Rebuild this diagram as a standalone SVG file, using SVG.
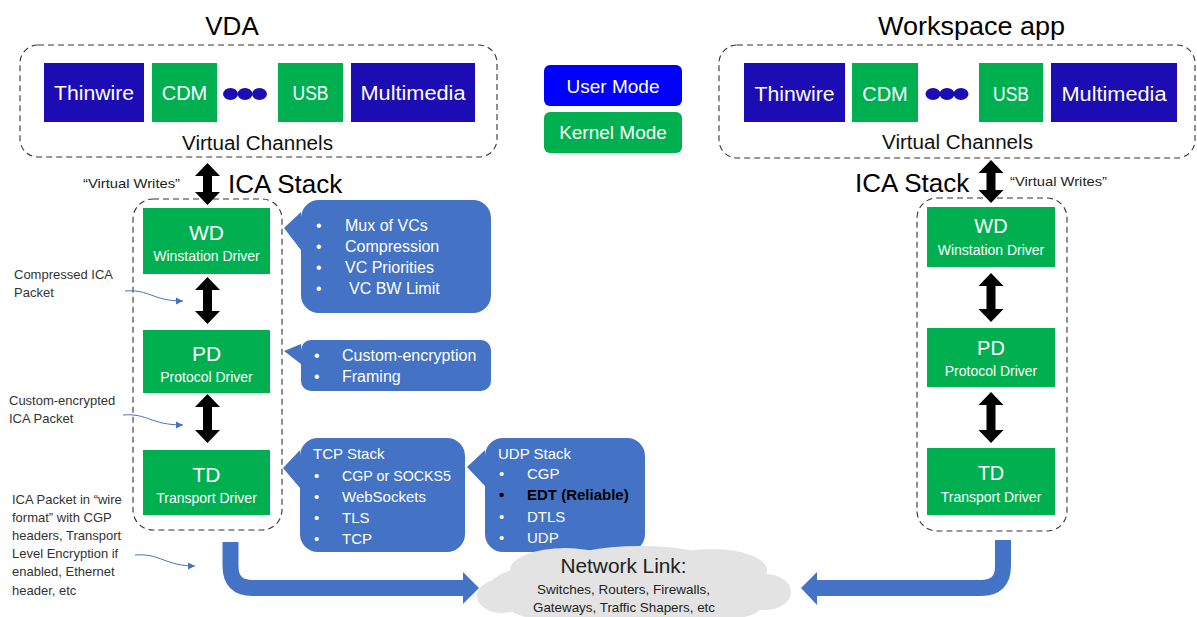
<svg xmlns="http://www.w3.org/2000/svg" width="1197" height="617" viewBox="0 0 1197 617">
<defs>
<style>
text{font-family:"Liberation Sans",Arial,sans-serif}
.title{font-size:26px;fill:#000;text-anchor:middle}
.stk{font-size:26px;fill:#000}
.dash{fill:none;stroke:#333;stroke-width:1.1;stroke-dasharray:6 4}
.vcb{fill:#1C0CB4}
.grn{fill:#00B050}
.vct{font-size:20px;fill:#fff;text-anchor:middle}
.dots{fill:#1C0CB4}
.vclab{font-size:20px;fill:#111;text-anchor:middle}
.drv{font-size:21px;fill:#fff;text-anchor:middle}
.drvs{font-size:14px;fill:#fff;text-anchor:middle}
.callout{fill:#4472C4}
.ct{font-size:16px;fill:#fff}
.ct15{font-size:15px;fill:#fff}
.ann{font-size:13px;fill:#333}
.vw{font-size:13px;fill:#222}
.dbl{fill:#000}
.big{fill:none;stroke:#4472C4;stroke-width:16}
.bighead{fill:#4472C4}
.thin{fill:none;stroke:#4472C4;stroke-width:1}
.cloud{fill:#E3E3E3}
.cloudt{fill:#222;text-anchor:middle}
.mode{font-size:19px;fill:#fff;text-anchor:middle}
</style>
<marker id="ah" markerWidth="8" markerHeight="8" refX="7" refY="4" orient="auto" markerUnits="userSpaceOnUse"><path d="M0,0.5 L7,4 L0,7.5 Z" fill="#4472C4"/></marker>
</defs>
<rect x="0" y="0" width="1197" height="617" fill="#fff"/>

<!-- VDA virtual channels -->
<g id="vda">
  <text class="title" x="232" y="35">VDA</text>
  <rect class="dash" x="20" y="45" width="477" height="112" rx="18"/>
  <text class="vclab" x="257.5" y="150" textLength="151" lengthAdjust="spacingAndGlyphs">Virtual Channels</text>
</g>
<g id="vda-thinwire"><rect class="vcb" x="44" y="63" width="100" height="59"/><text class="vct" x="94" y="100" textLength="80" lengthAdjust="spacingAndGlyphs">Thinwire</text></g>
<g id="vda-cdm"><rect class="grn" x="152" y="63" width="65" height="59"/><text class="vct" x="184.5" y="100">CDM</text></g>
<g id="vda-dots"><ellipse class="dots" cx="230.5" cy="94" rx="7.5" ry="6"/><ellipse class="dots" cx="245" cy="94" rx="7.5" ry="6"/><ellipse class="dots" cx="259.5" cy="94" rx="7.5" ry="6"/></g>
<g id="vda-usb"><rect class="grn" x="278" y="63" width="65" height="59"/><text class="vct" x="310.5" y="100" textLength="36" lengthAdjust="spacingAndGlyphs">USB</text></g>
<g id="vda-mm"><rect class="vcb" x="351" y="63" width="124" height="59"/><text class="vct" x="413" y="100" textLength="105" lengthAdjust="spacingAndGlyphs">Multimedia</text></g>

<!-- Legend -->
<g id="legend-user"><rect x="544" y="65" width="138" height="41" rx="6" fill="#0000FF"/><text class="mode" x="613" y="93">User Mode</text></g>
<g id="legend-kernel"><rect x="544" y="112" width="138" height="41" rx="6" fill="#00B050"/><text class="mode" x="613" y="139">Kernel Mode</text></g>

<!-- Workspace app virtual channels -->
<g id="wsa">
  <text class="title" x="971.5" y="35" textLength="187" lengthAdjust="spacingAndGlyphs">Workspace app</text>
  <rect class="dash" x="719" y="45" width="476" height="113" rx="18"/>
  <text class="vclab" x="957.5" y="149" textLength="151" lengthAdjust="spacingAndGlyphs">Virtual Channels</text>
</g>
<g id="wsa-thinwire"><rect class="vcb" x="744" y="63" width="101" height="59"/><text class="vct" x="794.5" y="101" textLength="80" lengthAdjust="spacingAndGlyphs">Thinwire</text></g>
<g id="wsa-cdm"><rect class="grn" x="852" y="63" width="66" height="59"/><text class="vct" x="885" y="101">CDM</text></g>
<g id="wsa-dots"><ellipse class="dots" cx="933" cy="94" rx="7.5" ry="6"/><ellipse class="dots" cx="947" cy="94" rx="7.5" ry="6"/><ellipse class="dots" cx="961" cy="94" rx="7.5" ry="6"/></g>
<g id="wsa-usb"><rect class="grn" x="979" y="63" width="64" height="59"/><text class="vct" x="1011" y="101" textLength="36" lengthAdjust="spacingAndGlyphs">USB</text></g>
<g id="wsa-mm"><rect class="vcb" x="1051" y="63" width="126" height="59"/><text class="vct" x="1114" y="101" textLength="105" lengthAdjust="spacingAndGlyphs">Multimedia</text></g>

<!-- Left ICA stack -->
<g id="vda-stack">
  <text class="stk" x="228" y="193">ICA Stack</text>
  <text class="vw" x="83" y="188" textLength="97" lengthAdjust="spacingAndGlyphs">“Virtual Writes”</text>
  <rect class="dash" x="133" y="199" width="149" height="331" rx="20"/>
</g>
<g id="vda-wd"><rect class="grn" x="143" y="208" width="127" height="66"/><text class="drv" x="206.5" y="240">WD</text><text class="drvs" x="206.5" y="261">Winstation Driver</text></g>
<g id="vda-pd"><rect class="grn" x="143" y="330" width="127" height="63"/><text class="drv" x="206.5" y="361">PD</text><text class="drvs" x="206.5" y="382">Protocol Driver</text></g>
<g id="vda-td"><rect class="grn" x="143" y="450" width="127" height="65"/><text class="drv" x="206.5" y="482">TD</text><text class="drvs" x="206.5" y="503">Transport Driver</text></g>

<!-- Right ICA stack -->
<g id="wsa-stack">
  <text class="stk" x="855" y="192">ICA Stack</text>
  <text class="vw" x="1010" y="186" textLength="97" lengthAdjust="spacingAndGlyphs">“Virtual Writes”</text>
  <rect class="dash" x="917" y="198" width="150" height="333" rx="20"/>
</g>
<g id="wsa-wd"><rect class="grn" x="927" y="207" width="128" height="60"/><text class="drv" x="991" y="233" style="font-size:20px">WD</text><text class="drvs" x="991" y="255">Winstation Driver</text></g>
<g id="wsa-pd"><rect class="grn" x="927" y="328" width="128" height="59"/><text class="drv" x="991" y="355" style="font-size:20px">PD</text><text class="drvs" x="991" y="376">Protocol Driver</text></g>
<g id="wsa-td"><rect class="grn" x="927" y="448" width="128" height="67"/><text class="drv" x="991" y="480" style="font-size:20px">TD</text><text class="drvs" x="991" y="502">Transport Driver</text></g>

<!-- Callouts -->
<g id="callout-wd">
  <path class="callout" d="M301,218 A18,18 0 0 1 319,200 H473 A18,18 0 0 1 491,218 V295 A18,18 0 0 1 473,313 H319 A18,18 0 0 1 301,295 V250 L284,228 L301,212 Z"/>
  <text class="ct" x="316" y="231">•</text><text class="ct" x="345" y="231">Mux of VCs</text>
  <text class="ct" x="316" y="252">•</text><text class="ct" x="345" y="252">Compression</text>
  <text class="ct" x="316" y="273">•</text><text class="ct" x="345" y="273">VC Priorities</text>
  <text class="ct" x="316" y="294">•</text><text class="ct" x="349" y="294">VC BW Limit</text>
</g>
<g id="callout-pd">
  <path class="callout" d="M301,350 A10,10 0 0 1 311,340 H481 A10,10 0 0 1 491,350 V381 A10,10 0 0 1 481,391 H311 A10,10 0 0 1 301,381 V364 L284,351 L301,344 Z"/>
  <text class="ct" x="314" y="361">•</text><text class="ct" x="342" y="361">Custom-encryption</text>
  <text class="ct" x="314" y="382">•</text><text class="ct" x="342" y="382">Framing</text>
</g>
<g id="callout-tcp">
  <path class="callout" d="M300,456 A18,18 0 0 1 318,438 H447 A18,18 0 0 1 465,456 V534 A18,18 0 0 1 447,552 H318 A18,18 0 0 1 300,534 V488 L283,468 L300,450 Z"/>
  <text class="ct15" x="313" y="459">TCP Stack</text>
  <text class="ct15" x="314" y="481">•</text><text class="ct15" x="342" y="481" textLength="109" lengthAdjust="spacingAndGlyphs">CGP or SOCKS5</text>
  <text class="ct15" x="314" y="502">•</text><text class="ct15" x="342" y="502">WebSockets</text>
  <text class="ct15" x="314" y="523">•</text><text class="ct15" x="342" y="523">TLS</text>
  <text class="ct15" x="314" y="544">•</text><text class="ct15" x="342" y="544">TCP</text>
</g>
<g id="callout-udp">
  <path class="callout" d="M485,456 A18,18 0 0 1 503,438 H627 A18,18 0 0 1 645,456 V534 A18,18 0 0 1 627,552 H503 A18,18 0 0 1 485,534 V486 L467,467 L485,450 Z"/>
  <text class="ct15" x="498" y="459">UDP Stack</text>
  <text class="ct15" x="499" y="479">•</text><text class="ct15" x="527" y="479">CGP</text>
  <text class="ct15" x="499" y="500" style="fill:#000;font-weight:bold">•</text><text class="ct15" x="527" y="500" style="fill:#000;font-weight:bold">EDT (Reliable)</text>
  <text class="ct15" x="499" y="522">•</text><text class="ct15" x="527" y="522">DTLS</text>
  <text class="ct15" x="499" y="543">•</text><text class="ct15" x="527" y="543">UDP</text>
</g>

<!-- Annotations -->
<g id="ann-compressed">
  <text class="ann" x="14" y="279">Compressed ICA</text>
  <text class="ann" x="14" y="297">Packet</text>
</g>
<g id="ann-encrypted">
  <text class="ann" x="9" y="405">Custom-encrypted</text>
  <text class="ann" x="9" y="423">ICA Packet</text>
</g>
<g id="ann-wire">
  <text class="ann" x="12" y="503.5">ICA Packet in “wire</text>
  <text class="ann" x="12" y="521.5">format” with CGP</text>
  <text class="ann" x="12" y="539.5">headers, Transport</text>
  <text class="ann" x="12" y="557.5">Level Encryption if</text>
  <text class="ann" x="12" y="576">enabled, Ethernet</text>
  <text class="ann" x="12" y="594.5">header, etc</text>
</g>

<!-- Connectors -->
<g id="connectors">
  <polygon class="dbl" points="207.5,163 220,176 212,176 212,192 220,192 207.5,205 195,192 203,192 203,176 195,176"/>
  <polygon class="dbl" points="207.5,277 220,290 212,290 212,311 220,311 207.5,324 195,311 203,311 203,290 195,290"/>
  <polygon class="dbl" points="207.5,394 220,407 212,407 212,430 220,430 207.5,443 195,430 203,430 203,407 195,407"/>
  <polygon class="dbl" points="991,160 1003.5,173 995.5,173 995.5,190 1003.5,190 991,203 978.5,190 986.5,190 986.5,173 978.5,173"/>
  <polygon class="dbl" points="991,273 1003.5,286 995.5,286 995.5,309 1003.5,309 991,322 978.5,309 986.5,309 986.5,286 978.5,286"/>
  <polygon class="dbl" points="991,392 1003.5,405 995.5,405 995.5,430 1003.5,430 991,443 978.5,430 986.5,430 986.5,405 978.5,405"/>
  <path class="big" d="M230.5,542 V566 Q230.5,588 252.5,588 H465"/>
  <polygon class="bighead" points="463,572 479,588 463,604"/>
  <path class="big" d="M1003,540 V566 Q1003,588 981,588 H815"/>
  <polygon class="bighead" points="817,572 801,588 817,605"/>
  <path class="thin" d="M125,291 C150,289 152,301 183,301" marker-end="url(#ah)"/>
  <path class="thin" d="M123,415 C148,413 150,425 183,425" marker-end="url(#ah)"/>
  <path class="thin" d="M135,555 C160,553 165,566 195,566" marker-end="url(#ah)"/>
</g>

<!-- Network cloud -->
<g id="network-link">
  <ellipse class="cloud" cx="634" cy="587" rx="145" ry="32"/>
  <ellipse class="cloud" cx="565" cy="570" rx="55" ry="22"/>
  <ellipse class="cloud" cx="640" cy="562" rx="75" ry="16"/>
  <ellipse class="cloud" cx="712" cy="570" rx="55" ry="21"/>
  <ellipse class="cloud" cx="502" cy="596" rx="25" ry="17"/>
  <ellipse class="cloud" cx="765" cy="592" rx="26" ry="18"/>
  <ellipse class="cloud" cx="575" cy="608" rx="65" ry="14"/>
  <ellipse class="cloud" cx="695" cy="608" rx="65" ry="14"/>
  <text class="cloudt" x="623.5" y="573" style="font-size:20px" textLength="126" lengthAdjust="spacingAndGlyphs">Network Link:</text>
  <text class="cloudt" x="623.5" y="594" style="font-size:13.5px" textLength="173" lengthAdjust="spacingAndGlyphs">Switches, Routers, Firewalls,</text>
  <text class="cloudt" x="624" y="612" style="font-size:13.5px" textLength="182" lengthAdjust="spacingAndGlyphs">Gateways, Traffic Shapers, etc</text>
</g>
</svg>
